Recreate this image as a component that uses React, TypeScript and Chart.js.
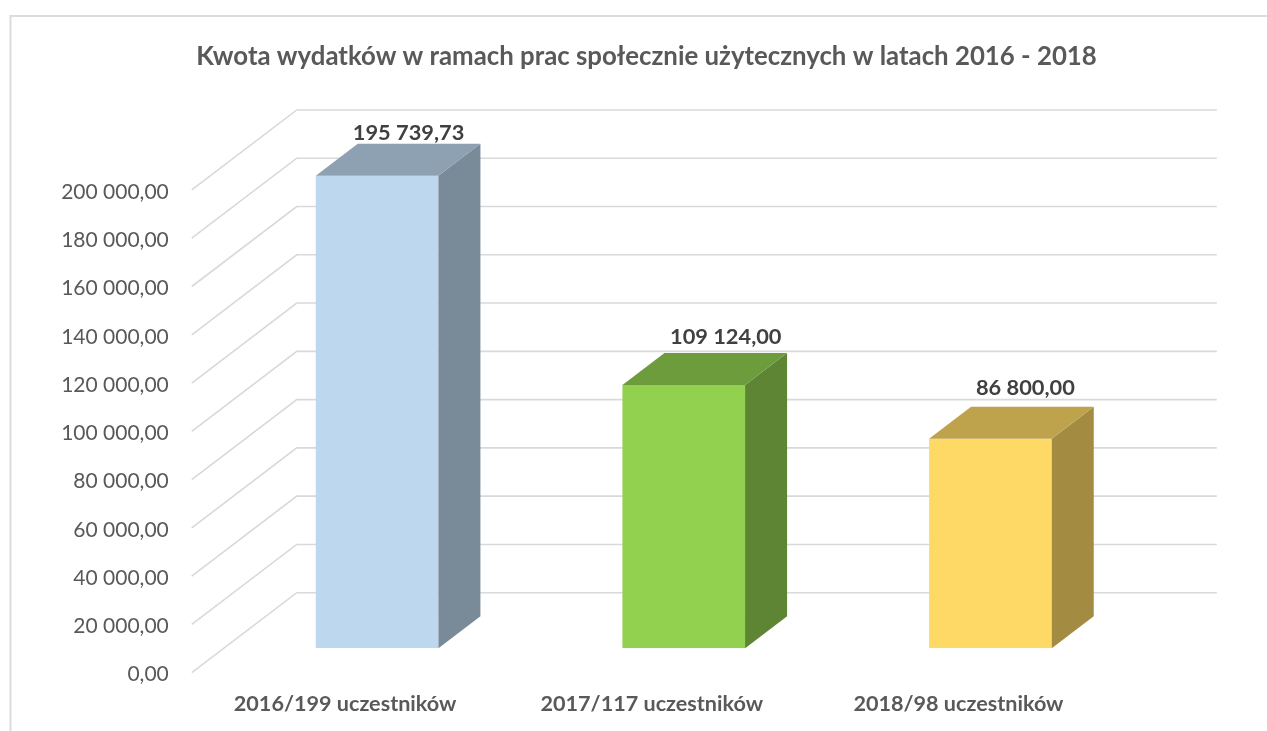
import React, { useEffect, useRef } from "react";
import { Chart, registerables } from "chart.js";

Chart.register(...registerables);

const titleText = "Kwota wydatków w ramach prac społecznie użytecznych w latach 2016 - 2018";
const categories = ["2016/199 uczestników", "2017/117 uczestników", "2018/98 uczestników"];
const expenditure = [195739.73, 109124.0, 86800.0];
const frontColors = ["#BDD7EE", "#92D050", "#FFD966"];
const topColors = ["#8EA1B3", "#6D9C3C", "#BFA34C"];
const sideColors = ["#798A98", "#5D8533", "#A38B41"];
const labelNudges = [[31.5, -10.5], [42, -15.5], [35, -18.5]];

const fmt = (v: number) => {
  const [a, b] = v.toFixed(2).split(".");
  return a.replace(/\B(?=(\d{3})+$)/g, " ") + "," + b;
};

const WALL = { x: 105, y: -80 };
const BAR_PLANE = { x: 32, y: -24.4 };
const BAR_DEPTH = { x: 42, y: -32 };

const threeD = {
  id: "threeD",
  beforeDraw(chart: any) {
    const { ctx, width, height } = chart;
    ctx.save();
    ctx.fillStyle = "#fff";
    ctx.fillRect(0, 0, width, height);
    ctx.strokeStyle = "#DCDCDC";
    ctx.lineWidth = 2;
    ctx.beginPath();
    ctx.moveTo(10.5, height);
    ctx.lineTo(10.5, 16);
    ctx.lineTo(width, 16);
    ctx.stroke();
    ctx.restore();
  },
  afterLayout(chart: any) {
    chart.titleBlock.left = 26;
    chart.titleBlock.right = chart.width;
  },
  beforeDatasetsDraw(chart: any) {
    const { ctx, chartArea, scales } = chart;
    ctx.save();
    ctx.strokeStyle = "#D9D9D9";
    ctx.lineWidth = 1.6;
    for (const t of scales.y.ticks) {
      const y = scales.y.getPixelForValue(t.value);
      ctx.beginPath();
      ctx.moveTo(chartArea.left, y);
      ctx.lineTo(chartArea.left + WALL.x, y + WALL.y);
      ctx.lineTo(chartArea.right + WALL.x, y + WALL.y);
      ctx.stroke();
    }
    ctx.restore();
    ctx.save();
    ctx.translate(BAR_PLANE.x, BAR_PLANE.y);
  },
  afterDatasetsDraw(chart: any) {
    const { ctx } = chart;
    const bars = chart.getDatasetMeta(0).data;
    bars.forEach((el: any, i: number) => {
      const l = el.x - el.width / 2;
      const r = el.x + el.width / 2;
      ctx.fillStyle = sideColors[i];
      ctx.beginPath();
      ctx.moveTo(r, el.y);
      ctx.lineTo(r + BAR_DEPTH.x, el.y + BAR_DEPTH.y);
      ctx.lineTo(r + BAR_DEPTH.x, el.base + BAR_DEPTH.y);
      ctx.lineTo(r, el.base);
      ctx.closePath();
      ctx.fill();
      ctx.fillStyle = topColors[i];
      ctx.beginPath();
      ctx.moveTo(l, el.y);
      ctx.lineTo(l + BAR_DEPTH.x, el.y + BAR_DEPTH.y);
      ctx.lineTo(r + BAR_DEPTH.x, el.y + BAR_DEPTH.y);
      ctx.lineTo(r, el.y);
      ctx.closePath();
      ctx.fill();
    });
    ctx.fillStyle = "#404040";
    ctx.font = "bold 21.8px Lato";
    ctx.textAlign = "center";
    ctx.textBaseline = "middle";
    bars.forEach((el: any, i: number) => {
      ctx.fillText(
        fmt(expenditure[i]),
        el.x + labelNudges[i][0],
        el.y + BAR_DEPTH.y + labelNudges[i][1]
      );
    });
    ctx.restore();
  },
};

export default function App() {
  const ref = useRef<HTMLCanvasElement>(null);
  useEffect(() => {
    const chart = new Chart(ref.current!, {
      type: "bar",
      data: {
        labels: categories,
        datasets: [
          {
            data: expenditure,
            backgroundColor: frontColors,
            borderWidth: 0,
            barPercentage: 0.4,
            categoryPercentage: 1,
          },
        ],
      },
      options: {
        responsive: false,
        animation: false,
        layout: { padding: { right: 155.25 } },
        plugins: {
          legend: { display: false },
          tooltip: { enabled: false },
          title: {
            display: true,
            text: titleText,
            color: "#595959",
            font: { family: "Lato", size: 25.8, weight: "bold", lineHeight: 1.2 },
            padding: { top: 41.5, bottom: 117.5 },
          },
        },
        scales: {
          x: {
            grid: { display: false },
            border: { display: false },
            afterFit: (s: any) => {
              s.height = 58.3;
            },
            ticks: {
              color: "#595959",
              font: { family: "Lato", size: 21.6, weight: "bold" },
              padding: 10,
              autoSkip: false,
              maxRotation: 0,
            },
          },
          y: {
            min: 0,
            max: 200000,
            grid: { display: false, drawTicks: false },
            border: { display: false },
            afterFit: (s: any) => {
              s.width = 191.75;
            },
            ticks: {
              stepSize: 20000,
              color: "#595959",
              font: { family: "Lato", size: 21 },
              padding: 23,
              labelOffset: 2,
              callback: (v: any) => fmt(Number(v)),
            },
          },
        },
      },
      plugins: [threeD],
    } as any);
    return () => chart.destroy();
  }, []);
  return (
    <div style={{ position: "fixed", left: 0, top: 0, width: 1267, height: 731, background: "#fff" }}>
      <canvas ref={ref} width={1267} height={731} style={{ display: "block", filter: "blur(0.4px)" }} />
    </div>
  );
}
